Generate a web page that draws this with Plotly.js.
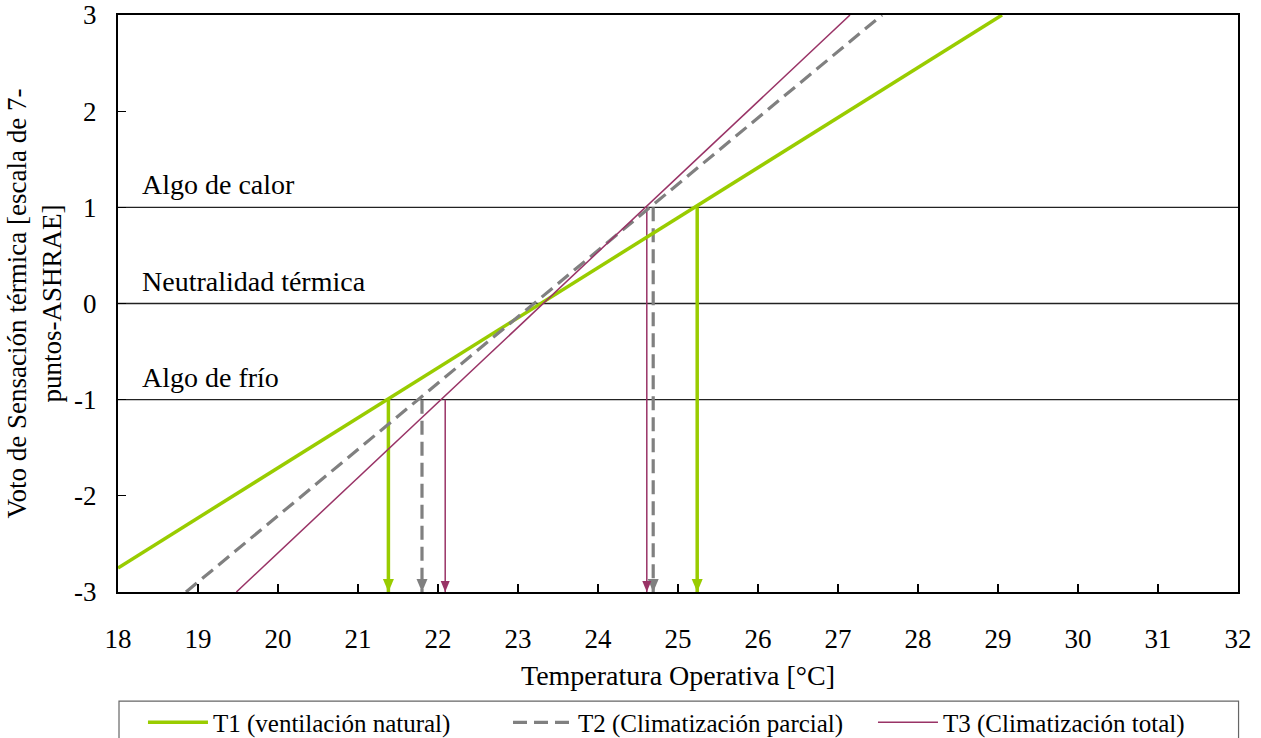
<!DOCTYPE html>
<html>
<head>
<meta charset="utf-8">
<script src="https://cdn.plot.ly/plotly-3.0.1.min.js"></script>
<style>html,body{margin:0;padding:0;background:#fff;}#chart{width:1261px;height:738px;}</style>
</head>
<body>
<div id="chart"></div>
<script>
// Series names
var seriesNames = ["T1 (ventilación natural)", "T2 (Climatización parcial)", "T3 (Climatización total)"];
// Regression line endpoints (temperature, vote)
var t1X = [18.0, 29.05];   var t1Y = [-2.75, 3.0];
var t2X = [18.85, 27.55];  var t2Y = [-3.0, 3.0];
var t3X = [19.48, 27.15];  var t3Y = [-3.0, 3.0];
// Comfort limits read at votes -1 and +1
var limitVotes = [-1, 1];
var t1Limits = [21.38, 25.24];
var t2Limits = [21.80, 24.69];
var t3Limits = [22.09, 24.61];
// Reference sensation levels
var levelVotes = [1, 0, -1];
var levelLabels = ["Algo de calor", "Neutralidad térmica", "Algo de frío"];
// Axis ticks
var xTicks = [18,19,20,21,22,23,24,25,26,27,28,29,30,31,32];
var yTicks = [-3,-2,-1,0,1,2,3];

var colors = ["#99CC00", "#808080", "#993366"];
var widths = [3.5, 3.2, 1.5];
var dashes = ["solid", "14px,7px", "solid"];
var font = "'Times New Roman', 'Liberation Serif', serif";

var lines = [[t1X,t1Y],[t2X,t2Y],[t3X,t3Y]];
var limits = [t1Limits, t2Limits, t3Limits];
var traces = [];
var shapes = [];

// horizontal reference lines
levelVotes.forEach(function(v){
  shapes.push({type:"line", xref:"paper", yref:"y", x0:0, x1:1, y0:v, y1:v,
    line:{color:"#222", width:1.3}, layer:"below"});
});

// vertical arrows
limits.forEach(function(lim, i){
  lim.forEach(function(xv, j){
    traces.push({x:[xv, xv], y:[limitVotes[j], yTicks[0]], mode:"lines", showlegend:false,
      hoverinfo:"skip", line:{color:colors[i], width:widths[i], dash:dashes[i]}});
    var w = i===2 ? 4.5 : 5.5, h = i===2 ? 11 : 13;
    shapes.push({type:"path", xref:"x", yref:"y", xsizemode:"pixel", ysizemode:"pixel",
      xanchor:xv, yanchor:yTicks[0],
      path:"M" + (-w) + "," + h + " L" + w + "," + h + " L0,0 Z",
      fillcolor:colors[i], line:{width:0}});
  });
});

// legend frame (spans the plot width)
shapes.push({type:"rect", xref:"paper", yref:"paper", x0:0.0009, x1:1.0005, y0:-0.189, y1:-0.27,
  line:{color:"#666", width:1.2}, fillcolor:"rgba(0,0,0,0)"});

// regression lines (legend entries)
lines.forEach(function(l, i){
  traces.push({x:l[0], y:l[1], mode:"lines", name:seriesNames[i], hoverinfo:"skip",
    line:{color:colors[i], width:widths[i], dash:dashes[i]}});
});

var annotations = levelVotes.map(function(v, i){
  return {x:18.27, y:v, xref:"x", yref:"y", xanchor:"left", yanchor:"bottom", yshift:5,
    text:levelLabels[i], showarrow:false, font:{family:font, size:28, color:"#000"}};
});

var layout = {
  width:1261, height:738,
  margin:{l:118, r:23, t:15, b:146, autoexpand:false},
  paper_bgcolor:"#fff", plot_bgcolor:"#fff",
  font:{family:font, color:"#000", size:25},
  showlegend:true,
  legend:{orientation:"h", x:0.0223, xanchor:"left", y:-0.1865, yanchor:"top",
    borderwidth:0, bgcolor:"rgba(0,0,0,0)",
    font:{family:font, size:25, color:"#000"},
    entrywidth:290, itemwidth:60, traceorder:"normal"},
  xaxis:{range:[18,32], tickvals:xTicks, ticktext:xTicks.map(String),
    ticks:"inside", ticklen:8, tickwidth:1.3, tickcolor:"#000",
    showline:true, linecolor:"#000", linewidth:2, mirror:true,
    showgrid:false, zeroline:false, ticklabelstandoff:22,
    tickfont:{family:font, size:27, color:"#000"},
    title:{text:"Temperatura Operativa [°C]", font:{family:font, size:28, color:"#000"}, standoff:12}},
  yaxis:{range:[-3,3], tickvals:yTicks, ticktext:yTicks.map(String),
    ticks:"inside", ticklen:8, tickwidth:1.3, tickcolor:"#000",
    showline:true, linecolor:"#000", linewidth:2, mirror:true,
    showgrid:false, zeroline:false, ticklabelstandoff:14,
    tickfont:{family:font, size:27, color:"#000"},
    title:{text:"Voto de Sensación térmica [escala de 7-<br>puntos-ASHRAE]", font:{family:font, size:27, color:"#000"}, standoff:5}},
  shapes:shapes,
  annotations:annotations
};

Plotly.newPlot("chart", traces, layout, {displayModeBar:false, staticPlot:true});
</script>
</body>
</html>
